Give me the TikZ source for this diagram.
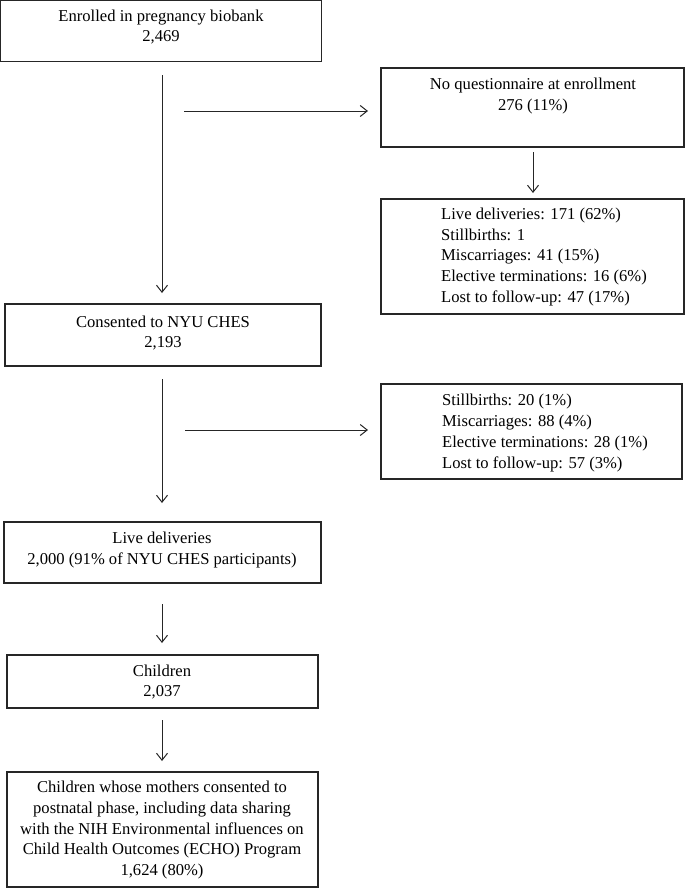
\documentclass[tikz,border=0pt]{standalone}
\usepackage{fontspec}
\setmainfont{Liberation Serif}
\usetikzlibrary{arrows.meta}
\tikzset{
  box/.style={draw=black!85, line width=1.2bp, rectangle, inner sep=0pt},
  txt/.style={inner sep=0pt, font=\fontsize{16.6bp}{20.7bp}\selectfont, text=black},
  ctxt/.style={txt, align=center},
  ltxt/.style={txt, align=left, anchor=west},
  arr/.style={draw=black!85, line width=1bp, -{Straight Barb[length=7bp,width=11bp,line width=1bp]}}
}
\begin{document}
\begin{tikzpicture}[x=1bp,y=-1bp]
\useasboundingbox (0,0) rectangle (685,888);
% boxes
\node[box, minimum width=321bp, minimum height=61bp] (b1) at (161,31.2) {};
\node[box, minimum width=303bp, minimum height=79bp] (bnoq) at (532.5,107.5) {};
\node[box, minimum width=303bp, minimum height=115bp] (blist) at (532.5,256.5) {};
\node[box, minimum width=316bp, minimum height=62bp] (bcons) at (163,335) {};
\node[box, minimum width=301bp, minimum height=95bp] (bstill) at (531.5,431.5) {};
\node[box, minimum width=317bp, minimum height=61bp] (blive) at (162.5,552.5) {};
\node[box, minimum width=311bp, minimum height=53bp] (bchild) at (162.5,681.5) {};
\node[box, minimum width=311bp, minimum height=115bp] (bfinal) at (162.5,829.5) {};
% texts
\node[ctxt] (t1) at (161,27) {Enrolled in pregnancy biobank\\2,469};
\node[ctxt] (tnoq) at (533,96) {No questionnaire at enrollment\\276 (11\%)};
\node[ltxt] (tlist) at (441,257) {Live deliveries: 171 (62\%)\\Stillbirths: 1\\Miscarriages: 41 (15\%)\\Elective terminations: 16 (6\%)\\Lost to follow-up: 47 (17\%)};
\node[ctxt] (tcons) at (163,333) {Consented to NYU CHES\\2,193};
\node[ltxt] (tstill) at (442,433) {Stillbirths: 20 (1\%)\\Miscarriages: 88 (4\%)\\Elective terminations: 28 (1\%)\\Lost to follow-up: 57 (3\%)};
\node[ctxt] (tlive) at (162,550) {Live deliveries\\2,000 (91\% of NYU CHES participants)};
\node[ctxt] (tchild) at (162,682) {Children\\2,037};
\node[ctxt] (tfinal) at (162,830) {Children whose mothers consented to\\postnatal phase, including data sharing\\with the NIH Environmental influences on\\Child Health Outcomes (ECHO) Program\\1,624 (80\%)};
% arrow end points
\coordinate (a1s) at (162,75);
\coordinate (a1e) at (162,293);
\coordinate (h1s) at (184,111);
\coordinate (h1e) at (368,111);
\coordinate (r1s) at (533,152);
\coordinate (r1e) at (533,193);
\coordinate (a2s) at (162,379);
\coordinate (a2e) at (162,503);
\coordinate (h2s) at (185,430);
\coordinate (h2e) at (368,430);
\coordinate (a3s) at (162,604);
\coordinate (a3e) at (162,643);
\coordinate (a4s) at (162,720);
\coordinate (a4e) at (162,761);
% arrows
\draw[arr] (a1s) -- (a1e);
\draw[arr] (h1s) -- (h1e);
\draw[arr] (r1s) -- (r1e);
\draw[arr] (a2s) -- (a2e);
\draw[arr] (h2s) -- (h2e);
\draw[arr] (a3s) -- (a3e);
\draw[arr] (a4s) -- (a4e);
\end{tikzpicture}
\end{document}
